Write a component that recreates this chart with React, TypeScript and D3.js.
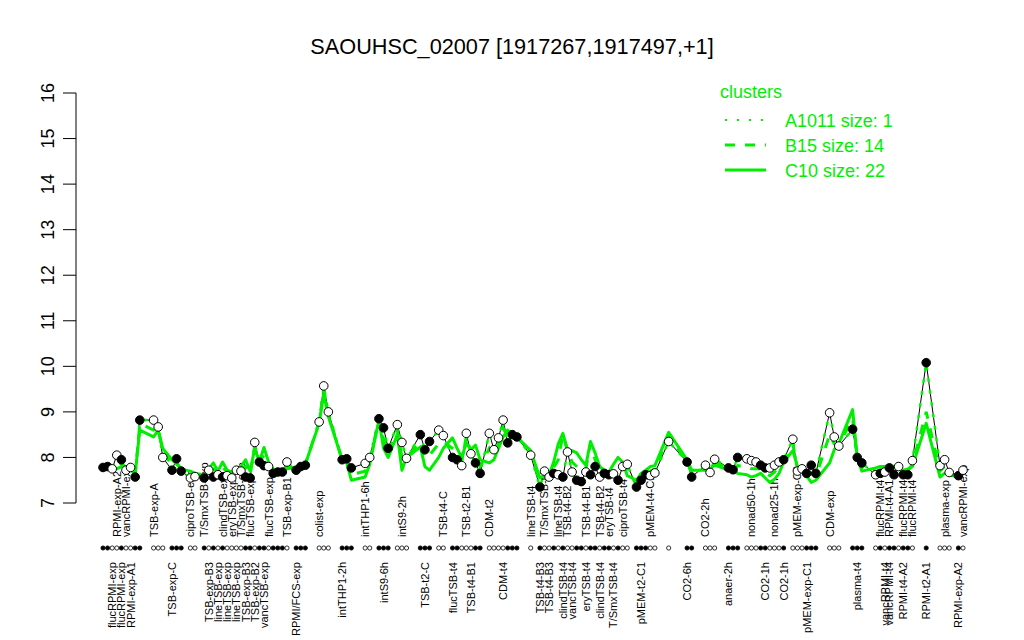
import { useEffect, useRef } from 'react';
import * as d3 from 'd3';

// points per condition group, and empty slots before each group
const groupSizes = [9, 3, 3, 2, 19, 3, 3, 3, 2, 3, 3, 3, 2, 7, 7, 1, 20, 5, 1, 2, 3, 3, 9, 6, 3, 3, 9, 1, 3, 2];
const groupGaps = [0, 2, 1, 1, 1, 1, 2, 2, 2, 1, 1, 2, 1, 1, 1, 2, 1, 1, 2, 3, 2, 2, 1, 1, 2, 2, 2, 2, 2, 1];

// expression of SAOUHSC_02007 (black line, also cluster A1011)
const expr = [
  7.78, 7.8, 7.75, 8.05, 7.95, 7.72, 7.78, 7.57, 8.82,
  8.82, 8.67, 8.0,
  7.72, 7.97, 7.7,
  7.55, 7.58,
  7.55, 7.72, 7.57, 7.62, 7.57, 7.6, 7.55, 7.72, 7.7, 7.57, 7.55, 8.33, 7.9, 7.82, 7.8, 7.65, 7.68, 7.68, 7.9,
  7.72, 7.8, 7.83,
  8.78, 9.57, 9.0,
  7.95, 7.97, 7.77,
  7.87, 8.0,
  8.85, 8.65, 8.2,
  8.72, 8.33, 7.98,
  8.5, 8.17, 8.35,
  8.6, 8.48,
  8.0, 7.95, 7.82, 8.53, 8.08, 7.88, 7.65,
  8.53, 8.17, 8.43, 8.82, 8.32, 8.5, 8.45,
  8.05,
  7.35, 7.7, 7.57, 7.65, 7.62, 7.57, 8.12, 7.68, 7.5, 7.47, 7.68, 7.62, 7.8, 7.57, 7.65, 7.62, 7.64, 7.5, 7.8, 7.85,
  7.35, 7.5, 7.62, 7.6, 7.66,
  8.35,
  7.9, 7.57,
  7.83, 7.67, 7.96,
  7.77, 7.73, 8.0,
  7.97, 7.93, 7.9, 7.83, 7.77, 7.77, 7.83, 7.9, 7.95,
  8.4, 7.7, 7.75, 7.65, 7.83, 7.65,
  8.98, 8.45, 8.25,
  8.62, 8.0, 7.88,
  7.62, 7.65, 7.68, 7.77, 7.62, 7.8, 7.62, 7.62, 7.93,
  10.08,
  7.82, 7.95, 7.67,
  7.6, 7.72,
];

// 1 = filled point
const filled = [
  1, 1, 0, 0, 1, 0, 0, 1, 1,
  0, 0, 0,
  1, 1, 1,
  0, 0,
  1, 0, 1, 0, 1, 0, 0, 0, 0, 1, 1, 0, 1, 1, 0, 1, 1, 1, 0,
  1, 1, 1,
  0, 0, 0,
  1, 1, 1,
  0, 0,
  1, 1, 1,
  0, 0, 0,
  1, 1, 1,
  0, 0,
  1, 1, 0, 0, 0, 1, 1,
  0, 0, 0, 0, 1, 1, 1,
  0,
  1, 0, 0, 1, 0, 1, 0, 0, 1, 1, 0, 1, 1, 0, 1, 1, 0, 1, 0, 0,
  1, 1, 1, 0, 0,
  0,
  1, 1,
  0, 0, 0,
  1, 1, 1,
  0, 0, 0, 1, 1, 0, 0, 0, 1,
  0, 0, 0, 1, 1, 1,
  0, 0, 0,
  1, 1, 1,
  0, 1, 0, 1, 1, 0, 1, 1, 0,
  1,
  0, 0, 0,
  1, 0,
];

// cluster C10 mean (solid)
const c10 = [
  7.72, 7.75, 7.8, 7.75, 7.8, 7.78, 7.72, 7.65, 8.6,
  8.45, 8.6, 8.2,
  7.95, 7.85, 7.75,
  7.7, 7.65,
  7.62, 7.75, 7.88, 7.7, 7.9, 7.72, 7.68, 7.75, 7.8, 7.95, 7.7, 8.2, 7.9, 8.22, 7.9, 7.75, 7.7, 7.72, 7.75,
  7.78, 7.8, 7.85,
  8.75, 9.4, 8.9,
  7.95, 7.88, 7.5,
  7.57, 7.85,
  8.82, 8.2, 8.0,
  8.5, 7.72, 8.0,
  8.23, 7.8, 7.72,
  8.0, 8.2,
  8.43, 8.2, 8.0, 8.32, 8.17, 8.27, 7.95,
  7.88, 7.95, 8.2, 8.45, 8.6, 8.53, 8.45,
  8.15,
  7.55, 7.6, 7.62, 7.9, 8.3, 8.53, 8.17, 8.15, 8.1, 7.95, 7.83, 8.35, 8.1, 7.8, 7.72, 7.68, 7.85, 8.0, 7.9, 7.6,
  7.5, 7.65, 7.72, 7.8, 7.82,
  8.55,
  7.95, 7.72,
  7.72, 7.75, 7.83,
  7.72, 7.7, 7.65,
  7.62, 7.57, 7.6, 7.65, 7.55, 7.45, 7.52, 7.65, 7.9,
  8.15, 7.8, 7.75, 7.6, 7.45, 7.5,
  7.88, 8.17, 8.3,
  9.05, 8.0, 7.7,
  7.77, 7.8, 7.8, 7.83, 7.8, 7.75, 7.72, 7.75, 7.8,
  8.75,
  7.57, 7.65, 7.62,
  7.57, 7.6,
];

// cluster B15 mean (dashed)
const b15 = [
  7.75, 7.78, 7.78, 7.9, 7.85, 7.75, 7.75, 7.6, 8.75,
  8.6, 8.65, 8.1,
  7.85, 7.9, 7.72,
  7.62, 7.6,
  7.6, 7.72, 7.75, 7.65, 7.78, 7.68, 7.62, 7.72, 7.75, 7.8, 7.62, 8.25, 7.9, 8.05, 7.85, 7.7, 7.7, 7.7, 7.8,
  7.75, 7.8, 7.85,
  8.78, 9.5, 8.95,
  7.95, 7.92, 7.62,
  7.7, 7.92,
  8.85, 8.4, 8.1,
  8.6, 8.0, 8.0,
  8.35, 8.0, 8.05,
  8.3, 8.35,
  8.2, 8.1, 7.9, 8.45, 8.12, 8.05, 7.8,
  8.2, 8.05, 8.3, 8.65, 8.45, 8.5, 8.45,
  8.1,
  7.45, 7.65, 7.6, 7.78, 7.95, 8.5, 8.15, 7.9, 7.8, 7.7, 7.75, 8.3, 7.95, 7.7, 7.7, 7.65, 7.75, 7.8, 7.85, 7.72,
  7.42, 7.58, 7.68, 7.7, 7.75,
  8.45,
  7.92, 7.65,
  7.78, 7.7, 7.9,
  7.75, 7.72, 7.82,
  7.8, 7.75, 7.75, 7.75, 7.65, 7.6, 7.68, 7.78, 7.92,
  8.3, 7.75, 7.75, 7.62, 7.65, 7.58,
  8.5, 8.3, 8.28,
  8.85, 8.0, 7.78,
  7.7, 7.72, 7.75, 7.8, 7.7, 7.78, 7.68, 7.7, 7.85,
  9.0,
  7.7, 7.8, 7.65,
  7.58, 7.66,
];

// condition labels: [point index, name]
const topLabels: [number, string][] = [
  [3, 'RPMI-exp-A2'], [5, 'vancRPMI-exp'], [9, 'TSB-exp-A'], [15, 'ciproTSB-exp'],
  [17, 'T/SmxTSB-exp'], [21, 'clindTSB-exp'], [23, 'eryTSB-exp'], [25, 'T/SmxTSB-exp'],
  [27, 'flucTSB-exp'], [31, 'flucTSB-exp'], [35, 'TSB-exp-B1'], [39, 'colist-exp'],
  [45, 'intTHP1-6h'], [51, 'intS9-2h'], [57, 'TSB-t4-C'], [61, 'TSB-t2-B1'], [65, 'CDM-t2'],
  [72, 'lineTSB-t4'], [74, 'T/SmxTSB-t4'], [77, 'lineTSB-t4'], [79, 'TSB-t4-B2'],
  [83, 'TSB-t4-B1'], [86, 'TSB-t4-B2'], [88, 'eryTSB-t4'], [91, 'ciproTSB-t4'],
  [96, 'pMEM-t4-C1'], [101, 'CO2-2h'], [108, 'nonad50-1h'], [113, 'nonad25-1h'],
  [117, 'pMEM-exp-C8'], [122, 'CDM-exp'], [129, 'flucRPMI-t4'], [131, 'RPMI-t4-A1'],
  [134, 'flucRPMI-t4'], [136, 'flucRPMI-t4'], [139, 'plasma-exp'], [142, 'vancRPMI-exp'],
];
const bottomLabels: [number, string][] = [
  [2, 'flucRPMI-exp'], [4, 'flucRPMI-exp'], [6, 'RPMI-exp-A1'], [12, 'TSB-exp-C'],
  [18, 'TSB-exp-B3'], [20, 'lineTSB-exp'], [22, 'lineTSB-exp'], [24, 'lineTSB-exp'],
  [26, 'TSB-exp-B3'], [28, 'TSB-exp-B2'], [30, 'vancTSB-exp'], [36, 'RPMI/FCS-exp'],
  [42, 'intTHP1-2h'], [48, 'intS9-6h'], [54, 'TSB-t2-C'], [58, 'flucTSB-t4'],
  [62, 'TSB-t4-B1'], [68, 'CDM-t4'], [73, 'TSB-t4-B3'], [75, 'TSB-t4-B3'],
  [78, 'clindTSB-t4'], [80, 'vancTSB-t4'], [83, 'eryTSB-t4'], [86, 'clindTSB-t4'],
  [89, 'T/SmxTSB-t4'], [94, 'pMEM-t2-C1'], [99, 'CO2-6h'], [104, 'anaer-2h'],
  [111, 'CO2-1h'], [115, 'CO2-1h'], [119, 'pMEM-exp-C1'], [126, 'plasma-t4'],
  [130, 'vancRPMI-t4'], [131, 'vancRPMI-t4'], [134, 'RPMI-t4-A2'], [137, 'RPMI-t2-A1'],
  [141, 'RPMI-exp-A2'],
];

const yTicks = [7, 8, 9, 10, 11, 12, 13, 14, 15, 16];
const legendItems = ['A1011 size: 1', 'B15 size: 14', 'C10 size: 22'];
const legendDash = ['2,10', '10,10', null];

const GREEN = '#00ee00';
const FONT = '"Liberation Sans", Arial, Helvetica, sans-serif';

export default function App() {
  const svgRef = useRef<SVGSVGElement>(null);

  useEffect(() => {
    if (!svgRef.current) return;
    const svg = d3.select(svgRef.current);
    svg.selectAll('*').remove();

    // slot index of every point: groups laid out with their gaps
    const slots: number[] = [];
    let s = 0;
    groupSizes.forEach((n, g) => {
      s += groupGaps[g];
      for (let k = 0; k < n; k++) slots.push(s++);
    });
    const lastSlot = s - 1;

    const x = d3.scaleLinear().domain([0, lastSlot]).range([103, 963]);
    const y = d3.scaleLinear().domain([7, 16]).range([503, 93]);
    const AXIS_X = 76;
    const DOT_Y = 548;

    svg.append('text')
      .attr('x', 512).attr('y', 54)
      .attr('text-anchor', 'middle')
      .attr('font-size', 21.7)
      .attr('font-family', FONT)
      .text('SAOUHSC_02007 [1917267,1917497,+1]');

    // y axis
    const yg = svg.append('g').attr('font-family', FONT);
    yg.append('line')
      .attr('x1', AXIS_X).attr('x2', AXIS_X)
      .attr('y1', y(7)).attr('y2', y(16))
      .attr('stroke', '#000').attr('stroke-width', 1);
    yTicks.forEach((t) => {
      yg.append('line')
        .attr('x1', AXIS_X - 13).attr('x2', AXIS_X)
        .attr('y1', y(t)).attr('y2', y(t))
        .attr('stroke', '#000');
      yg.append('text')
        .attr('transform', `translate(${AXIS_X - 22},${y(t)}) rotate(-90)`)
        .attr('text-anchor', 'middle')
        .attr('font-size', 18)
        .text(t);
    });

    // condition labels
    const lg = svg.append('g').attr('font-family', FONT).attr('font-size', 11);
    topLabels.forEach(([i, name]) => {
      lg.append('text')
        .attr('transform', `translate(${x(slots[i]) + 4},537) rotate(-90)`)
        .attr('text-anchor', 'start')
        .text(name);
    });
    bottomLabels.forEach(([i, name]) => {
      lg.append('text')
        .attr('transform', `translate(${x(slots[i]) + 4},562) rotate(-90)`)
        .attr('text-anchor', 'end')
        .text(name);
    });

    const pts = expr.map((v, i) => ({ x: x(slots[i]), v, c: c10[i], b: b15[i], f: filled[i] }));

    // gene profile
    svg.append('path')
      .attr('d', d3.line<typeof pts[0]>().x((d) => d.x).y((d) => y(d.v))(pts)!)
      .attr('fill', 'none').attr('stroke', '#000').attr('stroke-width', 1);

    // cluster means
    svg.append('path')
      .attr('d', d3.line<typeof pts[0]>().x((d) => d.x).y((d) => y(d.c))(pts)!)
      .attr('fill', 'none').attr('stroke', GREEN).attr('stroke-width', 3)
      .attr('stroke-linejoin', 'round');
    svg.append('path')
      .attr('d', d3.line<typeof pts[0]>().x((d) => d.x).y((d) => y(d.b))(pts)!)
      .attr('fill', 'none').attr('stroke', GREEN).attr('stroke-width', 3)
      .attr('stroke-dasharray', '10,10');
    svg.append('path')
      .attr('d', d3.line<typeof pts[0]>().x((d) => d.x).y((d) => y(d.v))(pts)!)
      .attr('fill', 'none').attr('stroke', GREEN).attr('stroke-width', 2.5)
      .attr('stroke-dasharray', '2,10').attr('stroke-linecap', 'round');

    // points
    svg.append('g').selectAll('circle').data(pts).join('circle')
      .attr('cx', (d) => d.x).attr('cy', (d) => y(d.v)).attr('r', 4.3)
      .attr('fill', (d) => (d.f ? '#000' : '#fff'))
      .attr('stroke', '#000').attr('stroke-width', 1);

    // group membership dots
    svg.append('g').selectAll('circle').data(pts).join('circle')
      .attr('cx', (d) => d.x).attr('cy', DOT_Y).attr('r', 2.1)
      .attr('fill', (d) => (d.f ? '#000' : '#fff'))
      .attr('stroke', '#000').attr('stroke-width', 0.8);

    // legend
    const leg = svg.append('g').attr('font-family', FONT).attr('font-size', 18).attr('fill', GREEN);
    leg.append('text').attr('x', 720).attr('y', 98).text('clusters');
    legendItems.forEach((label, k) => {
      const ly = 120 + k * 25;
      const ln = leg.append('line')
        .attr('x1', 725).attr('x2', 766)
        .attr('y1', ly).attr('y2', ly)
        .attr('stroke', GREEN).attr('stroke-width', k === 0 ? 2 : 3);
      if (legendDash[k]) ln.attr('stroke-dasharray', legendDash[k]!);
      leg.append('text').attr('x', 785).attr('y', ly + 6.5).text(label);
    });
  }, []);

  return (
    <div style={{ position: 'absolute', left: 0, top: 0, background: '#fff' }}>
      <svg ref={svgRef} width={1024} height={640} viewBox="0 0 1024 640" />
    </div>
  );
}
